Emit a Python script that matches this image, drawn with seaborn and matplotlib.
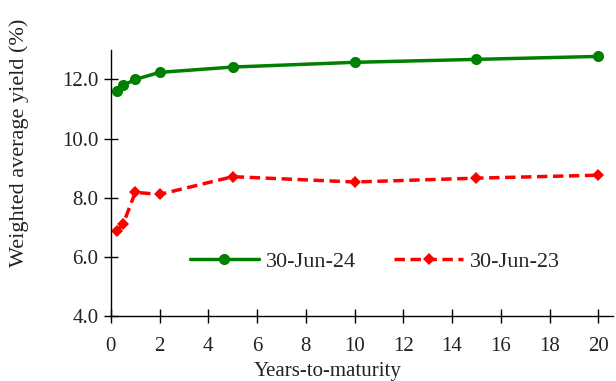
import matplotlib
matplotlib.use("Agg")
import matplotlib.pyplot as plt
import seaborn as sns

# tenors (years) and weighted average yields (%)
tenors = [0.25, 0.5, 1, 2, 5, 10, 15, 20]
yield_jun24 = [11.60, 11.80, 12.00, 12.24, 12.42, 12.58, 12.68, 12.78]
yield_jun23 = [6.88, 7.10, 8.18, 8.11, 8.71, 8.53, 8.66, 8.76]
x_ticks = [0, 2, 4, 6, 8, 10, 12, 14, 16, 18, 20]
y_ticks = [4.0, 6.0, 8.0, 10.0, 12.0]

sns.set_style("ticks")
plt.rcParams["font.family"] = ["Liberation Serif", "DejaVu Serif"]

fig = plt.figure(figsize=(6.16, 3.81), dpi=100)
ax = fig.add_axes([0.180, 0.171, 0.815, 0.698])

sns.lineplot(ax=ax, x=tenors, y=yield_jun24, color="#008000", linewidth=2.5,
             marker="o", markersize=8, markeredgewidth=0, label="30-Jun-24")
sns.lineplot(ax=ax, x=tenors, y=yield_jun23, color="#ff0000", linewidth=2.5,
             linestyle=(0, (3, 1.6)), marker="D", markersize=6.5,
             markeredgewidth=0, label="30-Jun-23")

ax.set_xlim(0, 20.6)
ax.set_ylim(4.0, 13.0)
ax.set_xticks(x_ticks)
ax.set_yticks(y_ticks)
ax.set_yticklabels([f"{v:.1f}" for v in y_ticks])
ax.tick_params(axis="both", direction="inout", length=10, width=1,
               labelsize=15, colors="black", labelcolor="#222222",
               bottom=True, left=True)
ax.tick_params(axis="x", pad=10)
ax.tick_params(axis="y", pad=4)

sns.despine(ax=ax)
for side in ["left", "bottom"]:
    ax.spines[side].set_color("black")
    ax.spines[side].set_linewidth(1)

ax.set_xlabel("Years-to-maturity", fontsize=15, color="#222222")
ax.set_ylabel("Weighted average yield (%)", fontsize=16, color="#222222")
ax.xaxis.set_label_coords(0.432, -0.172)
ax.yaxis.set_label_coords(-0.163, 0.65)

ax.legend(loc="center", bbox_to_anchor=(0.526, 0.205), ncol=2, frameon=False,
          fontsize=16, handlelength=3.1, columnspacing=1.75, handletextpad=0.3)

fig.savefig("out.png", dpi=100)
